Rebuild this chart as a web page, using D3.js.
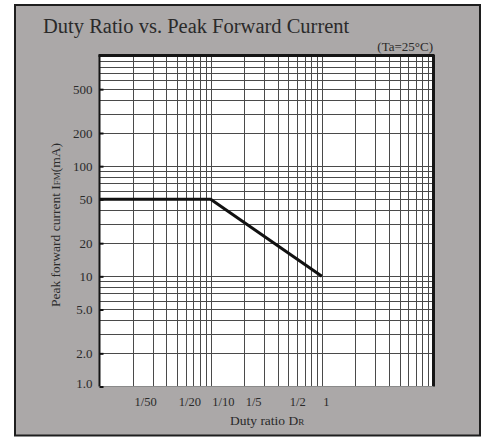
<!DOCTYPE html>
<html>
<head>
<meta charset="utf-8">
<script src="https://cdn.jsdelivr.net/npm/d3@7/dist/d3.min.js"></script>
<style>
  html, body { margin: 0; padding: 0; background: #fff; }
  svg { display: block; }
  text { font-family: "Liberation Serif", "Times New Roman", serif; fill: #2a2a2a; }
</style>
</head>
<body>
<svg id="chart" width="488" height="437"></svg>
<script>
// ---- data ----
const titleText = "Duty Ratio vs. Peak Forward Current";
const conditionText = "(Ta=25°C)";
const xTickValues = [0.02, 0.05, 0.1, 0.2, 0.5, 1];
const xTickLabels = ["1/50", "1/20", "1/10", "1/5", "1/2", "1"];
const yTickValues = [1, 2, 5, 10, 20, 50, 100, 200, 500];
const yTickLabels = ["1.0", "2.0", "5.0", "10", "20", "50", "100", "200", "500"];
const dutyRatio = [0.01, 0.1, 1];
const peakCurrent = [50, 50, 10];

// ---- layout ----
const svg = d3.select("#chart");
const plot = { left: 99.5, right: 433, top: 56, bottom: 386.5 };
const x = d3.scaleLog().domain([0.01, 10]).range([plot.left, plot.right]);
const y = d3.scaleLog().domain([1, 1000]).range([plot.bottom, plot.top]);

// outer frame
svg.append("rect").attr("x", 15).attr("y", 5).attr("width", 465).attr("height", 430.5)
  .attr("fill", "#aba8a8").attr("stroke", "#1e1e1e").attr("stroke-width", 2);

// title
svg.append("text").attr("x", 43).attr("y", 33).attr("font-size", 20.5).text(titleText);
svg.append("text").attr("x", 433).attr("y", 50.5).attr("font-size", 13)
  .attr("text-anchor", "end").text(conditionText);

// plot background
svg.append("rect").attr("x", plot.left).attr("y", plot.top)
  .attr("width", plot.right - plot.left).attr("height", plot.bottom - plot.top)
  .attr("fill", "#ffffff");

// grid values (1..9 per decade)
const xGrid = [];
[0.01, 0.1, 1].forEach(d => { for (let m = 1; m <= 9; m++) xGrid.push(d * m); });
const yGrid = [];
[1, 10, 100].forEach(d => { for (let m = 1; m <= 9; m++) yGrid.push(d * m); });

const grid = svg.append("g").attr("stroke", "#4a4a4a").attr("stroke-width", 1);
grid.selectAll("line.v").data(xGrid.filter(v => v > 0.0100001)).join("line")
  .attr("class", "v")
  .attr("x1", d => Math.round(x(d)) + 0.5).attr("x2", d => Math.round(x(d)) + 0.5)
  .attr("y1", plot.top).attr("y2", plot.bottom);
grid.selectAll("line.h").data(yGrid.filter(v => v > 1.00001)).join("line")
  .attr("class", "h")
  .attr("y1", d => Math.round(y(d)) + 0.5).attr("y2", d => Math.round(y(d)) + 0.5)
  .attr("x1", plot.left).attr("x2", plot.right);

// plot border (top, left, right heavy; bottom light)
svg.append("line").attr("x1", plot.left - 1).attr("x2", plot.right + 1.5)
  .attr("y1", plot.top - 0.5).attr("y2", plot.top - 0.5).attr("stroke", "#151515").attr("stroke-width", 3);
svg.append("line").attr("x1", plot.left).attr("x2", plot.left)
  .attr("y1", plot.top - 1).attr("y2", plot.bottom).attr("stroke", "#151515").attr("stroke-width", 2);
svg.append("line").attr("x1", plot.right + 0.5).attr("x2", plot.right + 0.5)
  .attr("y1", plot.top - 1).attr("y2", plot.bottom).attr("stroke", "#151515").attr("stroke-width", 3);
svg.append("line").attr("x1", plot.left).attr("x2", plot.right)
  .attr("y1", plot.bottom).attr("y2", plot.bottom).attr("stroke", "#8a8a8a").attr("stroke-width", 1);

// y axis ticks and labels
const yAxis = d3.axisLeft(y).tickValues(yTickValues)
  .tickFormat((d, i) => yTickLabels[i]).tickSize(-4).tickPadding(7);
const yg = svg.append("g").attr("transform", `translate(${plot.left},0)`).call(yAxis);
yg.select(".domain").remove();
yg.selectAll(".tick line").attr("stroke", "#111").attr("stroke-width", 2);
yg.selectAll(".tick text").attr("font-size", 13).attr("fill", "#2a2a2a")
  .style("font-family", '"Liberation Serif", "Times New Roman", serif');
yg.selectAll(".tick").filter(d => d === 1).select("text").attr("dy", "0.05em");

// x axis labels
const xAxis = d3.axisBottom(x).tickValues(xTickValues)
  .tickFormat((d, i) => xTickLabels[i]).tickSize(0).tickPadding(11);
const xg = svg.append("g").attr("transform", `translate(0,${plot.bottom})`).call(xAxis);
xg.select(".domain").remove();
xg.selectAll(".tick text").attr("font-size", 12.5).attr("fill", "#2a2a2a")
  .attr("text-anchor", "start").attr("dx", 1)
  .style("font-family", '"Liberation Serif", "Times New Roman", serif');

// curve
const line = d3.line().x(d => x(d[0])).y(d => y(d[1]));
svg.append("path").datum(dutyRatio.map((d, i) => [d, peakCurrent[i]]))
  .attr("d", line).attr("fill", "none").attr("stroke", "#111")
  .attr("stroke-width", 3).attr("stroke-linejoin", "miter");

// axis titles
const xt = svg.append("text").attr("x", 230).attr("y", 425).attr("font-size", 13.5);
xt.append("tspan").text("Duty ratio D");
xt.append("tspan").attr("font-size", 9).text("R");

const yt = svg.append("text").attr("transform", "translate(60,307) rotate(-90)")
  .attr("font-size", 13.5);
yt.append("tspan").text("Peak forward current I");
yt.append("tspan").attr("font-size", 9).text("FM");
yt.append("tspan").text("(mA)");
</script>
</body>
</html>
